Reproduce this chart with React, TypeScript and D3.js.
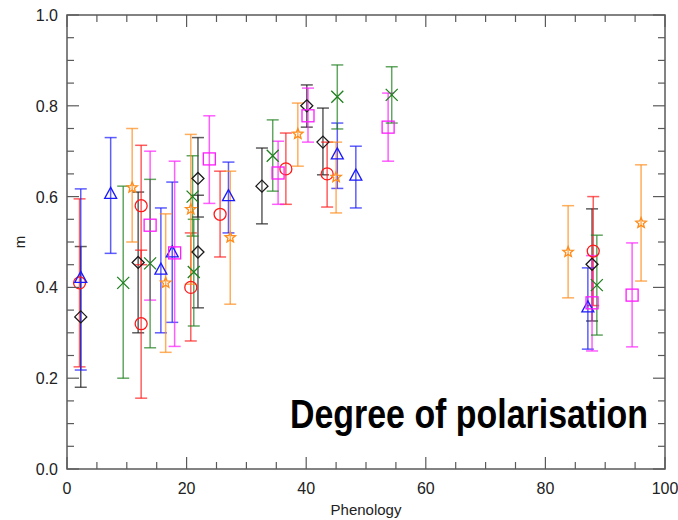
import React from "react";
import * as d3 from "d3";

// Each series: phenology (x), degree of polarisation (m), and the lower / upper error bounds
const blackX = [2.3, 11.9, 21.9, 21.9, 32.6, 40.1, 42.8, 87.8];
const blackM = [0.335, 0.455, 0.64, 0.478, 0.623, 0.8, 0.72, 0.451];
const blackLo = [0.18, 0.3, 0.555, 0.355, 0.54, 0.753, 0.648, 0.326];
const blackHi = [0.49, 0.61, 0.73, 0.603, 0.707, 0.846, 0.795, 0.573];

const redX = [2.1, 12.4, 12.4, 20.7, 25.6, 36.6, 43.5, 88];
const redM = [0.41, 0.58, 0.32, 0.4, 0.561, 0.661, 0.65, 0.48];
const redLo = [0.225, 0.45, 0.156, 0.282, 0.467, 0.583, 0.577, 0.36];
const redHi = [0.595, 0.713, 0.482, 0.52, 0.656, 0.74, 0.72, 0.6];

const blueX = [2.3, 7.3, 15.7, 17.6, 27, 45.2, 48.3, 87.1];
const blueM = [0.42, 0.605, 0.438, 0.476, 0.6, 0.692, 0.645, 0.355];
const blueLo = [0.218, 0.475, 0.3, 0.323, 0.52, 0.618, 0.575, 0.264];
const blueHi = [0.617, 0.73, 0.575, 0.632, 0.676, 0.762, 0.711, 0.443];

const magentaX = [13.9, 18, 23.8, 35.3, 40.3, 53.7, 87.8, 94.5];
const magentaM = [0.537, 0.476, 0.683, 0.652, 0.778, 0.753, 0.366, 0.383];
const magentaLo = [0.372, 0.27, 0.585, 0.583, 0.72, 0.678, 0.26, 0.269];
const magentaHi = [0.7, 0.678, 0.778, 0.722, 0.839, 0.828, 0.47, 0.498];

const greenX = [9.4, 13.9, 21, 21.2, 34.4, 45.2, 54.3, 88.6];
const greenM = [0.41, 0.453, 0.6, 0.434, 0.69, 0.82, 0.824, 0.405];
const greenLo = [0.2, 0.267, 0.513, 0.315, 0.612, 0.749, 0.762, 0.295];
const greenHi = [0.623, 0.638, 0.69, 0.55, 0.769, 0.89, 0.886, 0.515];

const orangeX = [10.9, 16.5, 20.7, 27.3, 38.6, 45, 83.8, 96];
const orangeM = [0.62, 0.41, 0.572, 0.51, 0.738, 0.643, 0.478, 0.542];
const orangeLo = [0.5, 0.257, 0.407, 0.363, 0.667, 0.564, 0.377, 0.414];
const orangeHi = [0.75, 0.562, 0.737, 0.656, 0.806, 0.72, 0.58, 0.67];

const xTicks = [0, 20, 40, 60, 80, 100];
const yTicks = [0.0, 0.2, 0.4, 0.6, 0.8, 1.0];

type Shape = "diamond" | "circle" | "triangle" | "square" | "cross" | "star";

const series: { name: string; shape: Shape; color: string; x: number[]; m: number[]; lo: number[]; hi: number[] }[] = [
  { name: "black", shape: "diamond", color: "#1a1a1a", x: blackX, m: blackM, lo: blackLo, hi: blackHi },
  { name: "red", shape: "circle", color: "#ff1a1a", x: redX, m: redM, lo: redLo, hi: redHi },
  { name: "blue", shape: "triangle", color: "#1a1aff", x: blueX, m: blueM, lo: blueLo, hi: blueHi },
  { name: "magenta", shape: "square", color: "#ff1aff", x: magentaX, m: magentaM, lo: magentaLo, hi: magentaHi },
  { name: "green", shape: "cross", color: "#1f801f", x: greenX, m: greenM, lo: greenLo, hi: greenHi },
  { name: "orange", shape: "star", color: "#ff8c1a", x: orangeX, m: orangeM, lo: orangeLo, hi: orangeHi },
];

const W = 678;
const H = 520;
const left = 67;
const right = 665;
const top = 15;
const bottom = 469;

function Marker({ shape, cx, cy, color }: { shape: Shape; cx: number; cy: number; color: string }) {
  const s = 6;
  const common = { fill: "none", stroke: color, strokeWidth: 1.3 };
  switch (shape) {
    case "circle":
      return <circle cx={cx} cy={cy} r={s} {...common} />;
    case "square":
      return <rect x={cx - s} y={cy - s} width={2 * s} height={2 * s} {...common} />;
    case "diamond":
      return <path d={`M${cx},${cy - s}L${cx + s},${cy}L${cx},${cy + s}L${cx - s},${cy}Z`} {...common} />;
    case "triangle":
      return <path d={`M${cx},${cy - s - 1}L${cx + s},${cy + s - 2}L${cx - s},${cy + s - 2}Z`} {...common} />;
    case "cross":
      return <path d={`M${cx - s},${cy - s}L${cx + s},${cy + s}M${cx - s},${cy + s}L${cx + s},${cy - s}`} {...common} />;
    case "star": {
      const pts: string[] = [];
      for (let i = 0; i < 10; i++) {
        const r = i % 2 === 0 ? 5.5 : 2.4;
        const a = -Math.PI / 2 + (i * Math.PI) / 5;
        pts.push(`${cx + r * Math.cos(a)},${cy + r * Math.sin(a)}`);
      }
      return <path d={`M${pts.join("L")}Z`} {...common} />;
    }
  }
}

export default function App() {
  const x = d3.scaleLinear().domain([0, 100]).range([left, right]);
  const y = d3.scaleLinear().domain([0, 1]).range([bottom, top]);
  const axisColor = "#5a5a5a";
  const font = "'Liberation Sans', Arial, sans-serif";

  const xMinor = d3.range(0, 100.001, 5);
  const yMinor = d3.range(0, 1.0001, 0.05);
  const cap = 6;

  return (
    <svg width={W} height={H} style={{ position: "absolute", left: 0, top: 0, background: "#fff" }}>
      {/* error bars */}
      {series.map((s) =>
        s.x.map((xv, i) => {
          const cx = x(xv);
          return (
            <g key={`${s.name}-e-${i}`} stroke={s.color} strokeWidth={1.5} strokeOpacity={0.7}>
              <line x1={cx} x2={cx} y1={y(s.lo[i])} y2={y(s.hi[i])} />
              <line x1={cx - cap} x2={cx + cap} y1={y(s.lo[i])} y2={y(s.lo[i])} />
              <line x1={cx - cap} x2={cx + cap} y1={y(s.hi[i])} y2={y(s.hi[i])} />
            </g>
          );
        })
      )}
      {/* markers */}
      {series.map((s) =>
        s.x.map((xv, i) => (
          <Marker key={`${s.name}-m-${i}`} shape={s.shape} cx={x(xv)} cy={y(s.m[i])} color={s.color} />
        ))
      )}

      {/* frame */}
      <rect x={left} y={top} width={right - left} height={bottom - top} fill="none" stroke={axisColor} strokeWidth={1.5} />

      {/* x ticks, bottom and top */}
      {xMinor.map((v) => {
        const major = Math.abs(v % 20) < 1e-6;
        const len = major ? 12 : 7;
        return (
          <g key={`xt-${v}`} stroke={axisColor} strokeWidth={1.2}>
            <line x1={x(v)} x2={x(v)} y1={bottom} y2={bottom - len} />
            <line x1={x(v)} x2={x(v)} y1={top} y2={top + len} />
          </g>
        );
      })}
      {/* y ticks, left and right */}
      {yMinor.map((v, i) => {
        const major = i % 4 === 0;
        const len = major ? 12 : 7;
        return (
          <g key={`yt-${i}`} stroke={axisColor} strokeWidth={1.2}>
            <line x1={left} x2={left + len} y1={y(v)} y2={y(v)} />
            <line x1={right} x2={right - len} y1={y(v)} y2={y(v)} />
          </g>
        );
      })}

      {/* tick labels */}
      {xTicks.map((v) => (
        <text key={`xl-${v}`} x={x(v)} y={494} textAnchor="middle" fontFamily={font} fontSize={16} fill="#222">
          {v}
        </text>
      ))}
      {yTicks.map((v) => (
        <text key={`yl-${v}`} x={58} y={y(v) + 6} textAnchor="end" fontFamily={font} fontSize={16} fill="#222">
          {v.toFixed(1)}
        </text>
      ))}

      {/* axis titles */}
      <text x={(left + right) / 2} y={515} textAnchor="middle" fontFamily={font} fontSize={15} fill="#222">
        Phenology
      </text>
      <text transform={`translate(25, ${(top + bottom) / 2}) rotate(-90)`} textAnchor="middle" fontFamily={font} fontSize={15} fill="#222">
        m
      </text>

      {/* panel title */}
      <text
        x={290}
        y={428}
        fontFamily="'Liberation Sans Narrow', 'Arial Narrow', 'Liberation Sans', sans-serif"
        fontWeight="bold"
        fontSize={40}
        textLength={358}
        lengthAdjust="spacingAndGlyphs"
        fill="#000"
      >
        Degree of polarisation
      </text>
    </svg>
  );
}
